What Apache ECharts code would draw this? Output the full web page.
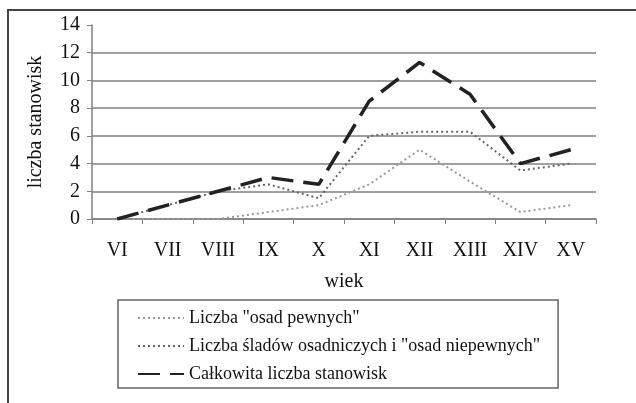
<!DOCTYPE html>
<html>
<head>
<meta charset="utf-8">
<script src="https://cdn.jsdelivr.net/npm/echarts@6/dist/echarts.min.js"></script>
<style>html,body{margin:0;padding:0;background:#fff;}#c{width:636px;height:403px;}</style>
</head>
<body>
<div id="c"></div>
<script>
const categories = ['VI','VII','VIII','IX','X','XI','XII','XIII','XIV','XV'];
const osadPewnych = [0, 0, 0, 0.5, 1, 2.5, 5, 2.7, 0.5, 1];
const sladyOsadnicze = [0, 1, 2, 2.5, 1.5, 6, 6.3, 6.3, 3.5, 4];
const calkowita = [0, 1, 2, 3, 2.5, 8.5, 11.3, 9, 4, 5];
const yTicks = [0, 2, 4, 6, 8, 10, 12, 14];

const F = 'Liberation Serif, Times New Roman, serif';
const chart = echarts.init(document.getElementById('c'));
chart.setOption({
  backgroundColor: '#fff',
  animation: false,
  graphic: [
    {type:'line', shape:{x1:7,y1:10,x2:636,y2:10}, style:{stroke:'#444', lineWidth:2}},
    {type:'line', shape:{x1:8,y1:10,x2:8,y2:403}, style:{stroke:'#444', lineWidth:2}}
  ],
  grid: {left: 92, right: 40, top: 25, bottom: 184},
  legend: {
    orient: 'vertical',
    left: 118, top: 300,
    padding: [9, 18, 5, 19],
    itemGap: 10,
    itemWidth: 46, itemHeight: 14,
    borderColor: '#666', borderWidth: 1.5,
    itemStyle: {opacity: 0},
    textStyle: {fontFamily: F, fontSize: 18, color: '#111'},
    data: ['Liczba "osad pewnych"', 'Liczba śladów osadniczych i "osad niepewnych"', 'Całkowita liczba stanowisk']
  },
  xAxis: {
    type: 'category',
    data: categories,
    boundaryGap: true,
    name: 'wiek',
    nameLocation: 'middle',
    nameGap: 53,
    nameTextStyle: {fontFamily: F, fontSize: 20, color: '#111'},
    axisLine: {lineStyle: {color: '#808080', width: 1.5}},
    axisTick: {show: true, length: 5, lineStyle: {color: '#808080'}},
    axisLabel: {fontFamily: F, fontSize: 20, color: '#111', margin: 22}
  },
  yAxis: {
    type: 'value',
    min: yTicks[0], max: yTicks[yTicks.length-1], interval: 2,
    name: 'liczba stanowisk',
    nameLocation: 'middle',
    nameGap: 46,
    nameTextStyle: {fontFamily: F, fontSize: 20, color: '#111'},
    axisLine: {show: true, lineStyle: {color: '#808080', width: 1.5}},
    axisTick: {show: true, length: 5, lineStyle: {color: '#808080'}},
    axisLabel: {fontFamily: F, fontSize: 20, color: '#111', margin: 12},
    splitLine: {show: true, lineStyle: {color: ['#808080','#808080','#808080','#808080','#808080','#808080','#808080','rgba(0,0,0,0)'], width: 1.5}}
  },
  series: [
    {name: 'Liczba "osad pewnych"', type: 'line', data: osadPewnych, showSymbol: false, symbol: 'none',
     lineStyle: {color: '#999', width: 2, type: [2, 3]}, itemStyle: {color: '#999'}},
    {name: 'Liczba śladów osadniczych i "osad niepewnych"', type: 'line', data: sladyOsadnicze, showSymbol: false, symbol: 'none',
     lineStyle: {color: '#666', width: 2, type: [2, 3]}, itemStyle: {color: '#666'}},
    {name: 'Całkowita liczba stanowisk', type: 'line', data: calkowita, showSymbol: false, symbol: 'none',
     lineStyle: {color: '#222', width: 3.5, type: [22, 10]}, itemStyle: {color: '#222'}, z: 3}
  ]
});
</script>
</body>
</html>
